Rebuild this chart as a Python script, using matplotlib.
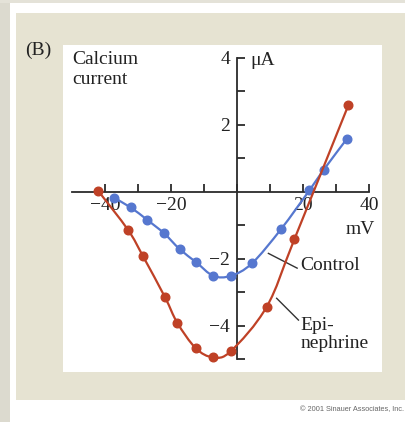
import matplotlib
matplotlib.use("Agg")
import matplotlib.pyplot as plt
from matplotlib.patches import Rectangle, PathPatch
from matplotlib.path import Path
from matplotlib.lines import Line2D

# ---- data ----
control_mv = [-37.3, -32.2, -27.2, -22.1, -17.4, -12.3, -7.2, -1.9, 4.5, 13.3, 21.9, 26.2, 33.2]
control_ua = [-0.18, -0.47, -0.84, -1.24, -1.71, -2.11, -2.51, -2.51, -2.14, -1.12, 0.04, 0.65, 1.57]

epi_mv = [-42.0, -33.0, -28.5, -21.8, -18.1, -12.5, -7.3, -1.9, 9.0, 17.4, 33.7]
epi_ua = [0.02, -1.14, -1.92, -3.15, -3.91, -4.67, -4.94, -4.76, -3.43, -1.41, 2.58]

x_major = [-40, -20, 20, 40]
x_major_labels = ["\u221240", "\u221220", "20", "40"]
x_minor = [-30, -10, 0, 10, 30]
y_major = [4, 2, -2, -4]
y_major_labels = ["4", "2", "\u22122", "\u22124"]
y_minor = [3, 1, -1, -3, -5]

BLUE = "#5677cf"
RED = "#bf4126"
BEIGE = "#e6e3d2"
AXC = "#2b2b2b"
SERIF = ["Liberation Serif", "DejaVu Serif"]
FS = 14

W, H = 405, 422
fig = plt.figure(figsize=(W / 100, H / 100), dpi=100)
fig.patch.set_facecolor("white")


def px_rect(x0, y0, x1, y1, color, z=-10):
    fig.patches.append(Rectangle((x0 / W, 1 - y1 / H), (x1 - x0) / W, (y1 - y0) / H,
                                 transform=fig.transFigure, facecolor=color,
                                 edgecolor="none", zorder=z))


def smooth_path(xs, ys):
    """Cubic Bezier path (Catmull-Rom) passing through the given data points."""
    pts = list(zip(xs, ys))
    verts = [pts[0]]
    codes = [Path.MOVETO]
    n = len(pts)
    for i in range(n - 1):
        p0 = pts[i - 1] if i > 0 else pts[i]
        p1 = pts[i]
        p2 = pts[i + 1]
        p3 = pts[i + 2] if i + 2 < n else pts[i + 1]
        c1 = (p1[0] + (p2[0] - p0[0]) / 6, p1[1] + (p2[1] - p0[1]) / 6)
        c2 = (p2[0] - (p3[0] - p1[0]) / 6, p2[1] - (p3[1] - p1[1]) / 6)
        verts += [c1, c2, p2]
        codes += [Path.CURVE4] * 3
    return Path(verts, codes)


# textured strips (approximated as solid tones)
px_rect(0, 0, 10, H, "#dcdacf")
px_rect(0, 0, W, 3, "#e4e2d8")
# beige panel
px_rect(16, 12.7, W, 400, BEIGE)

ax = fig.add_axes([63 / W, 1 - 372 / H, (382 - 63) / W, (372 - 45) / H])
ax.set_zorder(1)
ax.set_facecolor("white")
ax.set_xlim(-52.7, 43.9)
ax.set_ylim(-5.38, 4.38)

for s in ("top", "right"):
    ax.spines[s].set_visible(False)
ax.spines["left"].set_position(("data", 0))
ax.spines["bottom"].set_position(("data", 0))
ax.spines["left"].set_bounds(-5, 4)
ax.spines["bottom"].set_bounds(-50, 40)
for s in ("left", "bottom"):
    ax.spines[s].set_color(AXC)
    ax.spines[s].set_linewidth(1.3)

ax.set_xticks(x_major)
ax.set_xticklabels(x_major_labels)
ax.set_xticks(x_minor, minor=True)
ax.set_yticks(y_major)
ax.set_yticklabels(y_major_labels)
ax.set_yticks(y_minor, minor=True)
ax.tick_params(which="both", direction="in", length=6, width=1.3, color=AXC)
ax.tick_params(axis="x", which="major", pad=4)
ax.tick_params(axis="y", which="major", pad=5)
for lab in ax.get_xticklabels() + ax.get_yticklabels():
    lab.set_fontfamily(SERIF)
    lab.set_fontsize(FS)
    lab.set_color("#222222")

for xs, ys, col, z in ((control_mv, control_ua, BLUE, 4), (epi_mv, epi_ua, RED, 5)):
    ax.add_patch(PathPatch(smooth_path(xs, ys), facecolor="none", edgecolor=col,
                           lw=1.6, zorder=z, clip_on=False))
    ax.plot(xs, ys, linestyle="none", marker="o", ms=6.2, color=col,
            zorder=z, clip_on=False)

tkw = dict(fontfamily=SERIF, fontsize=FS, color="#222222")
ax.text(-50, 4.2, "Calcium\ncurrent", ha="left", va="top", linespacing=1.25, **tkw)
ax.text(3.9, 3.92, "\u03bcA", ha="left", va="center", **tkw)
ax.text(41.8, -1.14, "mV", ha="right", va="center", **tkw)
ax.text(19.1, -2.21, "Control", ha="left", va="center", **tkw)
ax.text(19.1, -3.98, "Epi-", ha="left", va="center", **tkw)
ax.text(19.1, -4.52, "nephrine", ha="left", va="center", **tkw)
ax.add_line(Line2D([9.5, 18.2], [-1.84, -2.28], color="#333333", lw=1.0))
ax.add_line(Line2D([12.0, 18.6], [-3.18, -3.83], color="#333333", lw=1.0))

fig.text(25 / W, 1 - 50 / H, "(B)", ha="left", va="center", **tkw)
fig.text(300 / W, 1 - 410 / H, "\u00a9 2001 Sinauer Associates, Inc.", ha="left",
         va="center", fontsize=5.3, color="#666666", fontfamily="Liberation Sans")

fig.savefig("out.png", dpi=100, facecolor="white")
